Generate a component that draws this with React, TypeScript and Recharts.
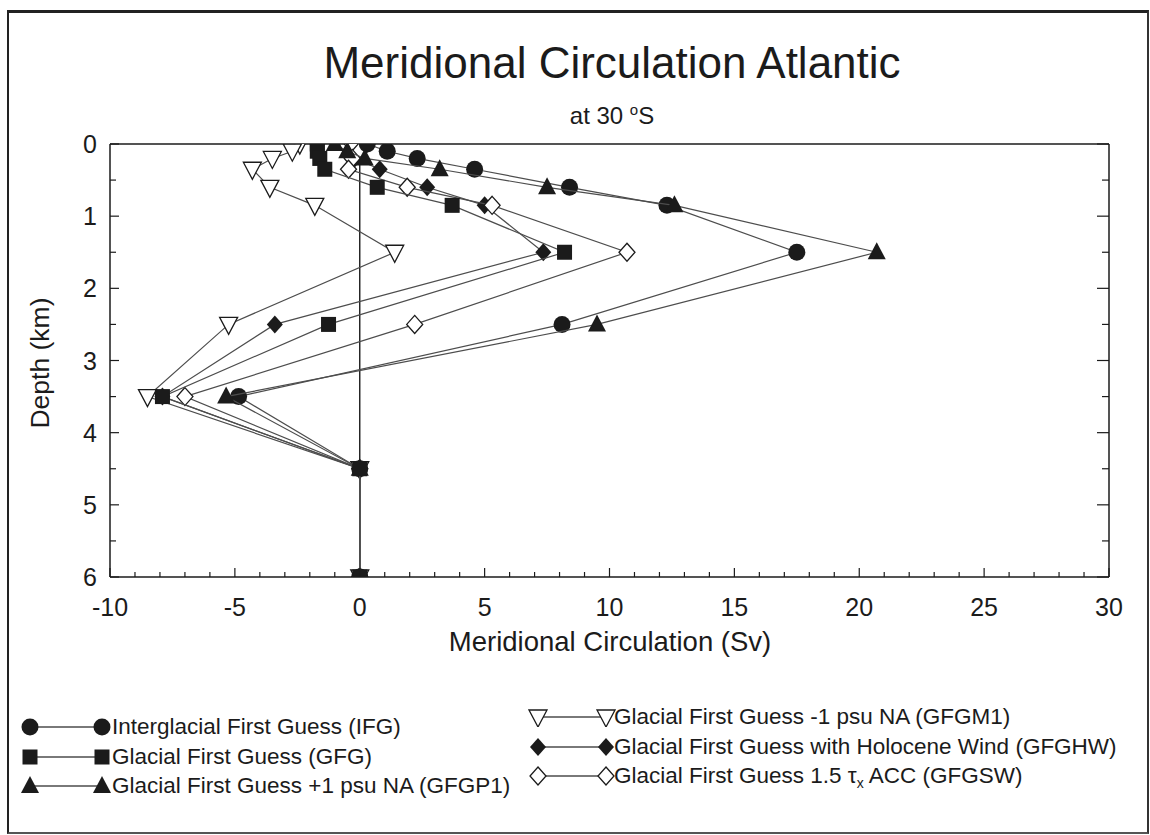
import { ScatterChart, Scatter, XAxis, YAxis, ReferenceLine, Legend } from 'recharts'

// model levels (km) shared by every run
const depthKm = [0, 0.1, 0.2, 0.35, 0.6, 0.85, 1.5, 2.5, 3.5, 4.5, 6.0]

// overturning streamfunction at 30°S (Sv), one value per level
const ifg = [0.3, 1.1, 2.3, 4.6, 8.4, 12.3, 17.5, 8.1, -4.85, 0, 0]
const gfg = [-1.7, -1.7, -1.6, -1.4, 0.7, 3.7, 8.2, -1.25, -7.9, 0, 0]
const gfgp1 = [-1.0, -0.5, 0.2, 3.2, 7.5, 12.6, 20.7, 9.5, -5.35, 0, 0]
const gfgm1 = [-2.4, -2.7, -3.5, -4.3, -3.6, -1.8, 1.4, -5.25, -8.5, 0, 0]
const gfghw = [0.1, 0.0, -0.2, 0.8, 2.7, 5.0, 7.35, -3.4, -7.9, 0, 0]
const gfgsw = [-0.3, 0.0, -0.3, -0.45, 1.9, 5.3, 10.7, 2.2, -7.0, 0, 0]

const xTicks = [
  -10, -9, -8, -7, -6, -5, -4, -3, -2, -1, 0, 1, 2, 3, 4, 5, 6, 7, 8, 9, 10,
  11, 12, 13, 14, 15, 16, 17, 18, 19, 20, 21, 22, 23, 24, 25, 26, 27, 28, 29, 30,
]
const xMajor = [-10, -5, 0, 5, 10, 15, 20, 25, 30]
const yTicks = [0, 0.5, 1, 1.5, 2, 2.5, 3, 3.5, 4, 4.5, 5, 5.5, 6]
const yMajor = [0, 1, 2, 3, 4, 5, 6]

const FONT = '"Liberation Sans", Arial, sans-serif'
const INK = '#1b1b1b'
const LINE = '#4d4d4d'

type Kind = 'circle' | 'square' | 'triUp' | 'triDown' | 'diamond' | 'diamondOpen'

function Marker({ kind, cx, cy }: { kind: Kind; cx: number; cy: number }) {
  switch (kind) {
    case 'circle':
      return <circle cx={cx} cy={cy} r={8.5} fill={INK} />
    case 'square':
      return <rect x={cx - 7.5} y={cy - 7.5} width={15} height={15} fill={INK} />
    case 'triUp':
      return <polygon points={`${cx},${cy - 10} ${cx + 9},${cy + 7} ${cx - 9},${cy + 7}`} fill={INK} />
    case 'triDown':
      return (
        <polygon
          points={`${cx - 9},${cy - 7} ${cx + 9},${cy - 7} ${cx},${cy + 10}`}
          fill="#fff"
          stroke={INK}
          strokeWidth={1.3}
        />
      )
    case 'diamond':
      return <polygon points={`${cx},${cy - 9} ${cx + 8},${cy} ${cx},${cy + 9} ${cx - 8},${cy}`} fill={INK} />
    default:
      return (
        <polygon
          points={`${cx},${cy - 9} ${cx + 8},${cy} ${cx},${cy + 9} ${cx - 8},${cy}`}
          fill="#fff"
          stroke={INK}
          strokeWidth={1.3}
        />
      )
  }
}

type Run = { key: string; values: number[]; kind: Kind; label: React.ReactNode }

const runs: Record<string, Run> = {
  IFG: { key: 'IFG', values: ifg, kind: 'circle', label: 'Interglacial First Guess (IFG)' },
  GFG: { key: 'GFG', values: gfg, kind: 'square', label: 'Glacial First Guess (GFG)' },
  GFGP1: { key: 'GFGP1', values: gfgp1, kind: 'triUp', label: 'Glacial First Guess +1 psu NA (GFGP1)' },
  GFGM1: { key: 'GFGM1', values: gfgm1, kind: 'triDown', label: 'Glacial First Guess -1 psu NA (GFGM1)' },
  GFGHW: { key: 'GFGHW', values: gfghw, kind: 'diamond', label: 'Glacial First Guess with Holocene Wind (GFGHW)' },
  GFGSW: {
    key: 'GFGSW',
    values: gfgsw,
    kind: 'diamondOpen',
    label: (
      <>
        Glacial First Guess 1.5 τ<sub style={{ fontSize: 14, verticalAlign: -5 }}>x</sub> ACC (GFGSW)
      </>
    ),
  },
}

// paint order: squares end up on top of the diamonds at 3.5 km
const drawOrder = ['GFGHW', 'GFGSW', 'GFGM1', 'IFG', 'GFGP1', 'GFG']
const legendLeft = ['IFG', 'GFG', 'GFGP1']
const legendRight = ['GFGM1', 'GFGHW', 'GFGSW']

const toPoints = (values: number[]) => values.map((v, i) => ({ x: v, y: depthKm[i] }))

const tickLine = { stroke: INK, strokeWidth: 1.2 }

const BottomTick = ({ x, y, payload }: any) => {
  const major = xMajor.includes(payload.value)
  return (
    <g>
      <line x1={x} x2={x} y1={y} y2={y - (major ? 9 : 5)} {...tickLine} />
      {major && (
        <text x={x} y={y + 39} textAnchor="middle" fontSize={25} fontFamily={FONT} fill={INK}>
          {payload.value}
        </text>
      )}
    </g>
  )
}

const TopTick = ({ x, y, payload }: any) => {
  const major = xMajor.includes(payload.value)
  return <line x1={x} x2={x} y1={y} y2={y + (major ? 9 : 5)} {...tickLine} />
}

const LeftTick = ({ x, y, payload }: any) => {
  const major = yMajor.includes(payload.value)
  return (
    <g>
      <line x1={x} x2={x + (major ? 9 : 6)} y1={y} y2={y} {...tickLine} />
      {major && (
        <text x={x - 13} y={y + 9} textAnchor="end" fontSize={25} fontFamily={FONT} fill={INK}>
          {payload.value}
        </text>
      )}
    </g>
  )
}

const RightTick = ({ x, y, payload }: any) => {
  const major = yMajor.includes(payload.value)
  return <line x1={x} x2={x - (major ? 12 : 7)} y1={y} y2={y} {...tickLine} />
}

function LegendIcon({ kind, gap }: { kind: Kind; gap: number }) {
  return (
    <svg width={gap + 20} height={20} style={{ position: 'absolute', left: 0, top: 0 }}>
      <line x1={10} x2={gap + 10} y1={10} y2={10} stroke={LINE} strokeWidth={1.3} />
      <Marker kind={kind} cx={10} cy={10} />
      <Marker kind={kind} cx={gap + 10} cy={10} />
    </svg>
  )
}

function LegendBox() {
  const row = (k: string, i: number, left: number, top: number, gap: number, textLeft: number) => (
    <div key={k} style={{ position: 'absolute', left, top: top + i * 29.5, height: 20, width: 620 }}>
      <LegendIcon kind={runs[k].kind} gap={gap} />
      <span
        style={{
          position: 'absolute',
          left: textLeft,
          top: -3,
          fontSize: 22.5,
          lineHeight: '26px',
          fontFamily: FONT,
          color: INK,
          whiteSpace: 'nowrap',
        }}
      >
        {runs[k].label}
      </span>
    </div>
  )
  return (
    <div style={{ position: 'relative', width: 1150, height: 120 }}>
      {legendLeft.map((k, i) => row(k, i, 20, 27, 72, 92))}
      {legendRight.map((k, i) => row(k, i, 528, 17, 68, 86))}
    </div>
  )
}

const axisLine = { stroke: INK, strokeWidth: 1.5 }

export default function App() {
  return (
    <div style={{ position: 'absolute', left: 0, top: 0, width: 1150, height: 835, background: '#fff' }}>
      <div
        style={{
          position: 'absolute',
          left: 7,
          top: 10,
          width: 1138,
          height: 819,
          borderTop: '3px solid #222',
          borderLeft: '2.5px solid #222',
          borderRight: '2px solid #333',
          borderBottom: '2.5px solid #555',
        }}
      />
      <svg width={1150} height={835} style={{ position: 'absolute', left: 0, top: 0, pointerEvents: 'none' }}>
        <text x={612} y={78} textAnchor="middle" fontSize={44} fontFamily={FONT} fill={INK}>
          Meridional Circulation Atlantic
        </text>
        <text x={612} y={124} textAnchor="middle" fontSize={24} fontFamily={FONT} fill={INK}>
          at 30 <tspan dy={-9} fontSize={15}>o</tspan>
          <tspan dy={9}>S</tspan>
        </text>
        <text x={610} y={651} textAnchor="middle" fontSize={27.5} fontFamily={FONT} fill={INK}>
          Meridional Circulation (Sv)
        </text>
        <text
          x={0}
          y={0}
          transform="translate(49 363) rotate(-90)"
          textAnchor="middle"
          fontSize={26.5}
          fontFamily={FONT}
          fill={INK}
        >
          Depth (km)
        </text>
      </svg>
      <div style={{ position: 'absolute', left: 0, top: 0 }}>
        <ScatterChart width={1150} height={835} margin={{ top: 143, right: 40, bottom: 257, left: 109 }}>
          <XAxis
            xAxisId="b"
            type="number"
            dataKey="x"
            orientation="bottom"
            domain={[-10, 30]}
            ticks={xTicks}
            interval={0}
            height={1}
            tickSize={0}
            tickMargin={0}
            tickLine={false}
            axisLine={axisLine}
            tick={(p: any) => <BottomTick {...p} />}
            allowDataOverflow
          />
          <XAxis
            xAxisId="t"
            type="number"
            orientation="top"
            domain={[-10, 30]}
            ticks={xTicks}
            interval={0}
            height={1}
            tickSize={0}
            tickMargin={0}
            tickLine={false}
            axisLine={axisLine}
            tick={(p: any) => <TopTick {...p} />}
            allowDataOverflow
          />
          <YAxis
            yAxisId="l"
            type="number"
            dataKey="y"
            orientation="left"
            reversed
            domain={[0, 6]}
            ticks={yTicks}
            interval={0}
            width={1}
            tickSize={0}
            tickMargin={0}
            tickLine={false}
            axisLine={axisLine}
            tick={(p: any) => <LeftTick {...p} />}
            allowDataOverflow
          />
          <YAxis
            yAxisId="r"
            type="number"
            orientation="right"
            reversed
            domain={[0, 6]}
            ticks={yTicks}
            interval={0}
            width={1}
            tickSize={0}
            tickMargin={0}
            tickLine={false}
            axisLine={axisLine}
            tick={(p: any) => <RightTick {...p} />}
            allowDataOverflow
          />
          <ReferenceLine xAxisId="b" yAxisId="l" x={0} stroke={INK} strokeWidth={1.4} />
          {drawOrder.map((k) => (
            <Scatter
              key={k}
              name={k}
              xAxisId="b"
              yAxisId="l"
              data={toPoints(runs[k].values)}
              line={{ stroke: LINE, strokeWidth: 1.2 }}
              shape={(p: any) => <Marker kind={runs[k].kind} cx={p.cx} cy={p.cy} />}
              isAnimationActive={false}
            />
          ))}
          <Legend
            verticalAlign="middle"
            align="center"
            content={() => <LegendBox />}
            wrapperStyle={{ left: 0, top: 690, width: 1150, height: 120 }}
          />
        </ScatterChart>
      </div>
    </div>
  )
}
